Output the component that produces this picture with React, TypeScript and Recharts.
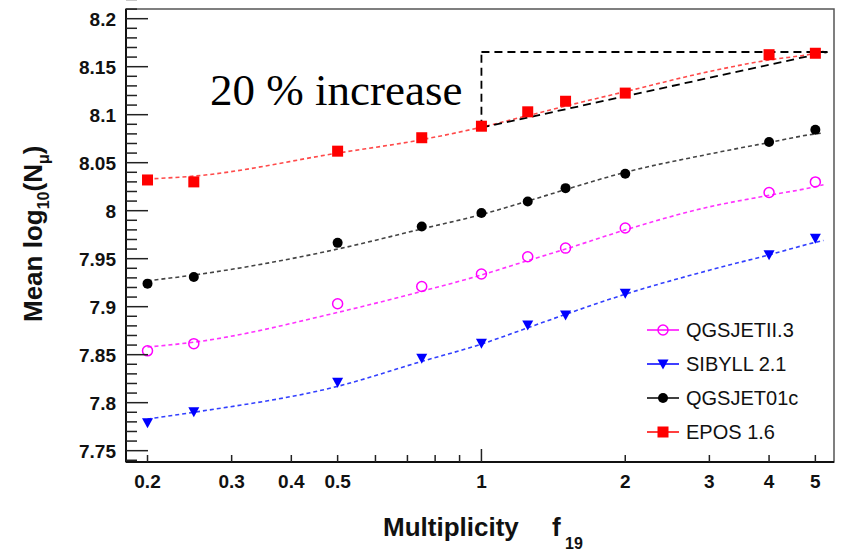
import { ComposedChart, Legend, Line, ReferenceArea, ReferenceLine, Scatter, XAxis, YAxis } from "recharts";

// measured points (f19 on a log axis)
const multiplicity = [0.2, 0.25, 0.5, 0.75, 1, 1.25, 1.5, 2, 4, 5];
const qgsjetII3 = [7.854, 7.8615, 7.903, 7.921, 7.934, 7.952, 7.961, 7.982, 8.019, 8.03];
const sibyll21 = [7.779, 7.7906, 7.8213, 7.8463, 7.862, 7.881, 7.8914, 7.914, 7.954, 7.9714];
const qgsjet01c = [7.924, 7.931, 7.9665, 7.9835, 7.9975, 8.0096, 8.0235, 8.0384, 8.0715, 8.0843];
const epos16 = [8.032, 8.03, 8.062, 8.076, 8.088, 8.103, 8.114, 8.1225, 8.1625, 8.164];

// dashed fit curves
const fitX = [0.2, 0.25, 0.5, 0.75, 1, 1.25, 1.5, 2, 3, 4, 5, 5.2];
const qgsjetII3Fit = [7.858, 7.863, 7.894, 7.916, 7.933, 7.948, 7.96, 7.98, 8.004, 8.016, 8.025, 8.027];
const sibyll21Fit = [7.783, 7.79, 7.817, 7.843, 7.861, 7.878, 7.892, 7.913, 7.938, 7.954, 7.967, 7.969];
const qgsjet01cFit = [7.927, 7.933, 7.96, 7.981, 7.996, 8.01, 8.022, 8.04, 8.059, 8.071, 8.08, 8.081];
const eposFit = [8.033, 8.036, 8.06, 8.074, 8.087, 8.099, 8.109, 8.124, 8.145, 8.157, 8.164, 8.166];

// "20 % increase" triangle
const increaseFrom = { x: 1, yLow: 8.0865, yHigh: 8.1653 };
const increaseTo = { x: 5.3, y: 8.1653 };

const xTicks = [0.2, 0.3, 0.4, 0.5, 0.6, 0.7, 0.8, 0.9, 1, 2, 3, 4, 5];
const xLabels = ["0.2", "0.3", "0.4", "0.5", "", "", "", "", "1", "2", "3", "4", "5"];
const yMajor = [7.75, 7.8, 7.85, 7.9, 7.95, 8, 8.05, 8.1, 8.15, 8.2];
const yLabels = ["7.75", "7.8", "7.85", "7.9", "7.95", "8", "8.05", "8.1", "8.15", "8.2"];

const X_DOMAIN = [0.1803, 5.47];
const Y_DOMAIN = [7.7382, 8.2101];

const yTicks: number[] = [7.74];
yMajor.forEach((m) => {
  for (let k = 0; k < 5; k++) yTicks.push(+(m + k * 0.01).toFixed(2));
});

const toPoints = (xs: number[], ys: number[]) => xs.map((x, i) => ({ x, y: ys[i] }));

const series = [
  { name: "QGSJETII.3", color: "#ff00ff", fit: "#ff33ff", marker: "openCircle", data: toPoints(multiplicity, qgsjetII3), fitData: toPoints(fitX, qgsjetII3Fit) },
  { name: "SIBYLL 2.1", color: "#0000ff", fit: "#3340ff", marker: "triangle", data: toPoints(multiplicity, sibyll21), fitData: toPoints(fitX, sibyll21Fit) },
  { name: "QGSJET01c", color: "#000000", fit: "#444444", marker: "circle", data: toPoints(multiplicity, qgsjet01c), fitData: toPoints(fitX, qgsjet01cFit) },
  { name: "EPOS 1.6", color: "#ff0000", fit: "#ff4a4a", marker: "square", data: toPoints(multiplicity, epos16), fitData: toPoints(fitX, eposFit) },
];

const sans = "'Liberation Sans', Arial, sans-serif";

const Marker = ({ kind, cx, cy, color }: { kind: string; cx: number; cy: number; color: string }) => {
  if (kind === "square") return <rect x={cx - 5.5} y={cy - 5.5} width={11} height={11} fill={color} />;
  if (kind === "circle") return <circle cx={cx} cy={cy} r={5} fill={color} />;
  if (kind === "openCircle") return <circle cx={cx} cy={cy} r={5} fill="none" stroke={color} strokeWidth={1.5} />;
  return <polygon points={`${cx - 5.5},${cy - 4.5} ${cx + 5.5},${cy - 4.5} ${cx},${cy + 5.5}`} fill={color} />;
};

const YTick = ({ x, y, payload }: any) => {
  const idx = yMajor.findIndex((m) => Math.abs(m - payload.value) < 1e-6);
  const major = idx >= 0;
  return (
    <g>
      <line x1={x} x2={x + (major ? 22 : 11)} y1={y} y2={y} stroke="#222" strokeWidth={1.5} />
      {major && (
        <text x={x - 10} y={y} dy="0.36em" textAnchor="end" fontFamily={sans} fontWeight="bold" fontSize={19} fill="#111">
          {yLabels[idx]}
        </text>
      )}
    </g>
  );
};

const XTick = ({ x, y, payload }: any) => {
  const idx = xTicks.indexOf(payload.value);
  const len = payload.value === 1 ? 13 : 7;
  return (
    <g>
      <line x1={x} x2={x} y1={y} y2={y - len} stroke="#222" strokeWidth={1.5} />
      {xLabels[idx] && (
        <text x={x} y={y + 26} textAnchor="middle" fontFamily={sans} fontWeight="bold" fontSize={19} fill="#111">
          {xLabels[idx]}
        </text>
      )}
    </g>
  );
};

const LegendBox = () => (
  <div style={{ fontFamily: sans, fontSize: 20, color: "#111" }}>
    {series.map((s) => (
      <div key={s.name} style={{ display: "flex", alignItems: "center", height: 34 }}>
        <svg width={40} height={20} style={{ marginRight: 6 }}>
          <line x1={7} x2={39} y1={10} y2={10} stroke={s.color} strokeWidth={1.5} />
          <Marker kind={s.marker} cx={23} cy={10} color={s.color} />
        </svg>
        <span>{s.name}</span>
      </div>
    ))}
  </div>
);

export default function App() {
  return (
    <div style={{ position: "absolute", left: 0, top: 0, width: 844, height: 553, background: "#fff" }}>
      <ComposedChart width={844} height={553} margin={{ top: 9, right: 10, bottom: 0, left: 0 }}>
        <XAxis
          dataKey="x"
          type="number"
          scale="log"
          domain={X_DOMAIN}
          allowDataOverflow
          ticks={xTicks}
          interval={0}
          tick={<XTick />}
          tickLine={false}
          tickSize={0}
          tickMargin={0}
          axisLine={{ stroke: "#111", strokeWidth: 2 }}
          height={91}
        />
        <YAxis
          dataKey="y"
          type="number"
          domain={Y_DOMAIN}
          allowDataOverflow
          ticks={yTicks}
          interval={0}
          tick={<YTick />}
          tickLine={false}
          tickSize={0}
          tickMargin={0}
          axisLine={{ stroke: "#111", strokeWidth: 2 }}
          width={126}
        />
        <ReferenceArea x1={X_DOMAIN[0]} x2={X_DOMAIN[1]} y1={Y_DOMAIN[0]} y2={Y_DOMAIN[1]} fill="none" stroke="#555" strokeWidth={1.5} />
        {series.map((s) => (
          <Line
            key={s.name + "-fit"}
            data={s.fitData}
            dataKey="y"
            type="monotone"
            stroke={s.fit}
            strokeWidth={1.6}
            strokeDasharray="4 3"
            dot={false}
            activeDot={false}
            legendType="none"
            isAnimationActive={false}
          />
        ))}
        <ReferenceLine
          segment={[{ x: increaseFrom.x, y: increaseFrom.yHigh }, { x: increaseTo.x, y: increaseTo.y }]}
          stroke="#000"
          strokeWidth={1.8}
          strokeDasharray="8 5"
        />
        <ReferenceLine
          segment={[{ x: increaseFrom.x, y: increaseFrom.yLow }, { x: increaseFrom.x, y: increaseFrom.yHigh }]}
          stroke="#000"
          strokeWidth={1.8}
          strokeDasharray="8 5"
        />
        <ReferenceLine
          segment={[{ x: increaseFrom.x, y: increaseFrom.yLow }, { x: increaseTo.x, y: increaseTo.y }]}
          stroke="#000"
          strokeWidth={1.8}
          strokeDasharray="8 5"
        />
        {series.map((s) => (
          <Scatter
            key={s.name}
            name={s.name}
            data={s.data}
            fill={s.color}
            isAnimationActive={false}
            shape={(p: any) => <Marker kind={s.marker} cx={p.cx} cy={p.cy} color={s.color} />}
          />
        ))}
        <Legend
          layout="vertical"
          align="center"
          verticalAlign="middle"
          content={<LegendBox />}
          wrapperStyle={{ left: 640, top: 313, width: 200, height: 140 }}
        />
      </ComposedChart>
      <svg width={844} height={553} style={{ position: "absolute", left: 0, top: 0, pointerEvents: "none" }}>
        <text x={210} y={105} fontFamily="'Liberation Serif', 'Times New Roman', serif" fontSize={45} fill="#000">
          20 % increase
        </text>
        <text transform="translate(42,322) rotate(-90)" fontFamily={sans} fontWeight="bold" fontSize={26} fill="#111">
          Mean log
          <tspan fontSize={16} dy={7}>10</tspan>
          <tspan dy={-7}>(N</tspan>
          <tspan fontSize={16} dy={7}>μ</tspan>
          <tspan dy={-7}>)</tspan>
        </text>
        <text x={383} y={536} fontFamily={sans} fontWeight="bold" fontSize={26} fill="#111">
          Multiplicity
        </text>
        <text x={552} y={536} fontFamily={sans} fontWeight="bold" fontSize={26} fill="#111">
          f
        </text>
        <text x={565} y={549} fontFamily={sans} fontWeight="bold" fontSize={16} fill="#111">
          19
        </text>
      </svg>
    </div>
  );
}
